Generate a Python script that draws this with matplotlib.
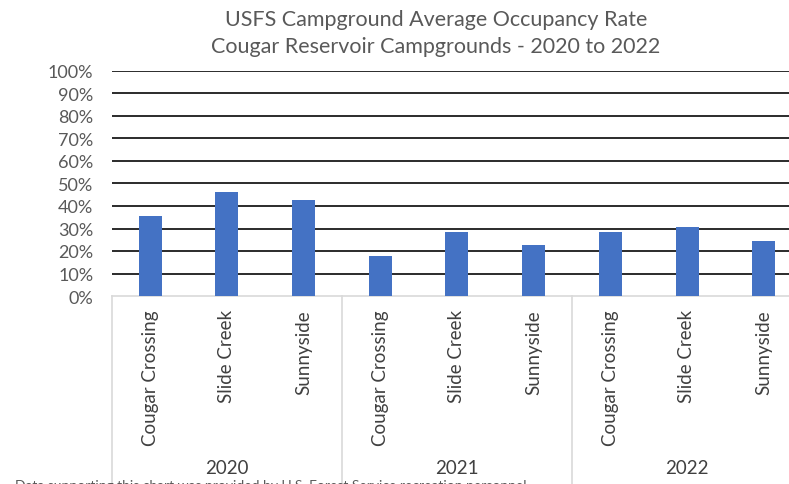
import matplotlib.pyplot as plt
import matplotlib.transforms as mtransforms
import numpy as np

plt.rcParams['font.family'] = ['Lato', 'DejaVu Sans']

years = ['2020', '2021', '2022']
campgrounds = ['Cougar Crossing', 'Slide Creek', 'Sunnyside']
occupancy = [35.7, 46.4, 42.8, 17.6, 28.6, 22.8, 28.6, 30.5, 24.3]
yticks = [0, 10, 20, 30, 40, 50, 60, 70, 80, 90, 100]

W, H = 789, 485
fig = plt.figure(figsize=(W / 100, H / 100), dpi=100)
# plot area runs past the right edge (chart is cropped in the reference)
ax = fig.add_axes([112 / W, (H - 297) / H, 690 / W, 225 / H])

x = np.arange(len(occupancy))
ax.bar(x, occupancy, width=0.3, color='#4472C4', zorder=3)

ax.set_xlim(-0.5, len(occupancy) - 0.5)
ax.set_ylim(0, 100)
ax.set_yticks(yticks)
ax.set_yticklabels([f'{t}%' for t in yticks])
ax.tick_params(axis='y', length=0, pad=13.5, labelsize=13, labelcolor='#595959')
ax.set_xticks([])
for t in yticks[1:]:
    ax.axhline(t, color='#1a1a1a', lw=1.3, zorder=1)
for s in ['top', 'right', 'left']:
    ax.spines[s].set_visible(False)
ax.spines['bottom'].set_color('#d9d9d9')
ax.spines['bottom'].set_linewidth(1.2)

trans = mtransforms.blended_transform_factory(ax.transData, ax.transAxes)
px = 1 / 225  # one pixel in axes units (vertical)

# category labels
for i in x:
    ax.text(i, -13 * px, campgrounds[i % 3], rotation=90, ha='center', va='top',
            fontsize=13.5, color='#404040', transform=trans)

# group separators and year labels
for g in range(len(years) + 1):
    ax.plot([g * 3 - 0.5, g * 3 - 0.5], [0, -190 * px], color='#d9d9d9', lw=1.2,
            transform=trans, clip_on=False)
for g, yr in enumerate(years):
    ax.text(g * 3 + 1, -171 * px, yr, ha='center', va='center', fontsize=13.5,
            color='#404040', transform=trans)

fig.text(436 / W, 1 - 20 / H, 'USFS Campground Average Occupancy Rate',
         ha='center', va='center', fontsize=15.5, color='#595959')
fig.text(436 / W, 1 - 47 / H, 'Cougar Reservoir Campgrounds - 2020 to 2022',
         ha='center', va='center', fontsize=15.5, color='#595959')

fig.text(15 / W, 1 - 480 / H,
         'Data supporting this chart was provided by U.S. Forest Service recreation personnel.',
         ha='left', va='top', fontsize=10, color='#595959')

fig.savefig('out.png', dpi=100)
